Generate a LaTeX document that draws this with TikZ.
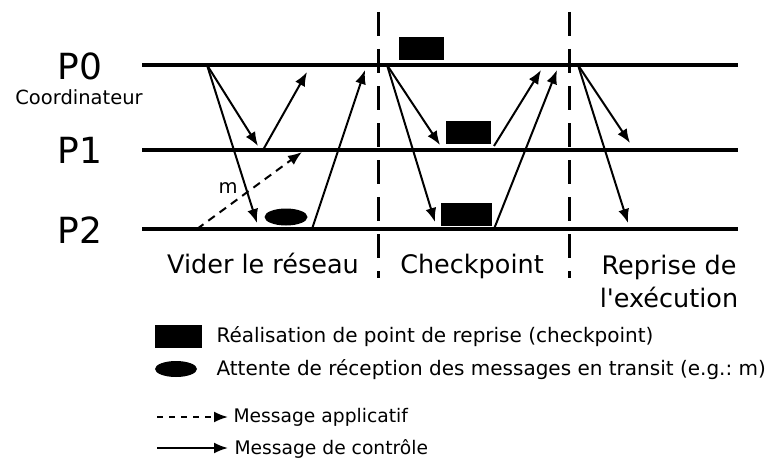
\documentclass[tikz,border=0pt]{standalone}
\usepackage{fontspec}
\setmainfont{DejaVu Sans}
\usetikzlibrary{shapes.geometric,arrows.meta}

\tikzset{
  procline/.style={line width=3.4pt},
  phaseline/.style={line width=3pt,dash pattern=on 24pt off 13pt},
  ctrl/.style={line width=2pt,-{Latex[length=14pt,width=11pt]}},
  appli/.style={ctrl,dash pattern=on 8pt off 6pt},
  ckbox/.style={fill=black,draw=none,inner sep=0pt,minimum height=23pt},
  waitell/.style={ellipse,fill=black,draw=none,inner sep=0pt,minimum width=43pt,minimum height=17pt},
  bigtxt/.style={font=\fontsize{36}{40}\selectfont},
  midtxt/.style={font=\fontsize{25.5}{33}\selectfont},
  smalltxt/.style={font=\fontsize{19.5}{22}\selectfont},
  legtxt/.style={font=\fontsize{20}{24}\selectfont,anchor=west}
}

\begin{document}
\frenchspacing
\begin{tikzpicture}[x=1pt,y=-1pt]
  \useasboundingbox (0,0) rectangle (770,460);

  \node[bigtxt] (p0) at (80,66) {P0};
  \node[smalltxt] (coord) at (79,97) {Coordinateur};
  \node[bigtxt] (p1) at (80,150) {P1};
  \node[bigtxt] (p2) at (80,230) {P2};

  \coordinate (l0a) at (142,65); \coordinate (l0b) at (738,65);
  \coordinate (l1a) at (142,150); \coordinate (l1b) at (738,150);
  \coordinate (l2a) at (142,229); \coordinate (l2b) at (738,229);
  \draw[procline] (l0a) -- (l0b);
  \draw[procline] (l1a) -- (l1b);
  \draw[procline] (l2a) -- (l2b);

  \coordinate (d1a) at (378,12); \coordinate (d1b) at (378,278);
  \coordinate (d2a) at (569,12); \coordinate (d2b) at (569,278);
  \draw[phaseline] (d1a) -- (d1b);
  \draw[phaseline] (d2a) -- (d2b);

  \coordinate (s0) at (207,65);
  \coordinate (r1) at (258,146);
  \coordinate (r2) at (257,223);
  \coordinate (s1) at (263,150);
  \coordinate (e1) at (307,72);
  \coordinate (s2) at (312,229);
  \coordinate (e2) at (365,70);
  \coordinate (ms) at (197,229);
  \coordinate (me) at (302,152);
  \draw[ctrl] (s0) -- (r1);
  \draw[ctrl] (s0) -- (r2);
  \draw[ctrl] (s1) -- (e1);
  \draw[ctrl] (s2) -- (e2);
  \draw[appli] (ms) -- (me);
  \node[smalltxt] (m) at (228,188) {m};
  \node[waitell] (wait) at (286,217) {};

  \node[ckbox,minimum width=45pt] (ck0) at (421.5,48.5) {};
  \node[ckbox,minimum width=45pt] (ck1) at (468.5,132.5) {};
  \node[ckbox,minimum width=51pt] (ck2) at (466.5,214.5) {};
  \coordinate (t0) at (387,65);
  \coordinate (u1) at (440,145);
  \coordinate (u2) at (435,222);
  \coordinate (t1) at (494,146);
  \coordinate (f1) at (541,70);
  \coordinate (t2) at (494,229);
  \coordinate (f2) at (557,70);
  \draw[ctrl] (t0) -- (u1);
  \draw[ctrl] (t0) -- (u2);
  \draw[ctrl] (t1) -- (f1);
  \draw[ctrl] (t2) -- (f2);

  \coordinate (q0) at (578,65);
  \coordinate (v1) at (630,143);
  \coordinate (v2) at (628,223);
  \draw[ctrl] (q0) -- (v1);
  \draw[ctrl] (q0) -- (v2);

  \node[midtxt,anchor=base] (vider) at (263,273) {Vider le réseau};
  \node[midtxt,anchor=base] (check) at (472,273) {Checkpoint};
  \node[midtxt,anchor=base] (reprise) at (669,274) {Reprise de};
  \node[midtxt,anchor=base] (exec) at (669,307) {l\textquotesingle exécution};

  \node[ckbox,minimum width=47pt] (legck) at (178.5,336.5) {};
  \node[legtxt] (legcktxt) at (213,337) {Réalisation de point de reprise (checkpoint)};
  \node[waitell,minimum width=42pt,minimum height=16pt] (legwait) at (176,369) {};
  \node[legtxt] (legwaittxt) at (213,370) {Attente de réception des messages en transit (e.g.: m)};
  \coordinate (la) at (157,417); \coordinate (lb) at (228,417);
  \draw[appli,dash pattern=on 6pt off 6pt] (la) -- (lb);
  \node[legtxt,font=\fontsize{18.7}{22}\selectfont] (legapp) at (230,417) {Message applicatif};
  \coordinate (lc) at (157,448); \coordinate (ld) at (228,448);
  \draw[ctrl] (lc) -- (ld);
  \node[legtxt,font=\fontsize{18.7}{22}\selectfont] (legctrl) at (231,449) {Message de contrôle};
\end{tikzpicture}
\end{document}
